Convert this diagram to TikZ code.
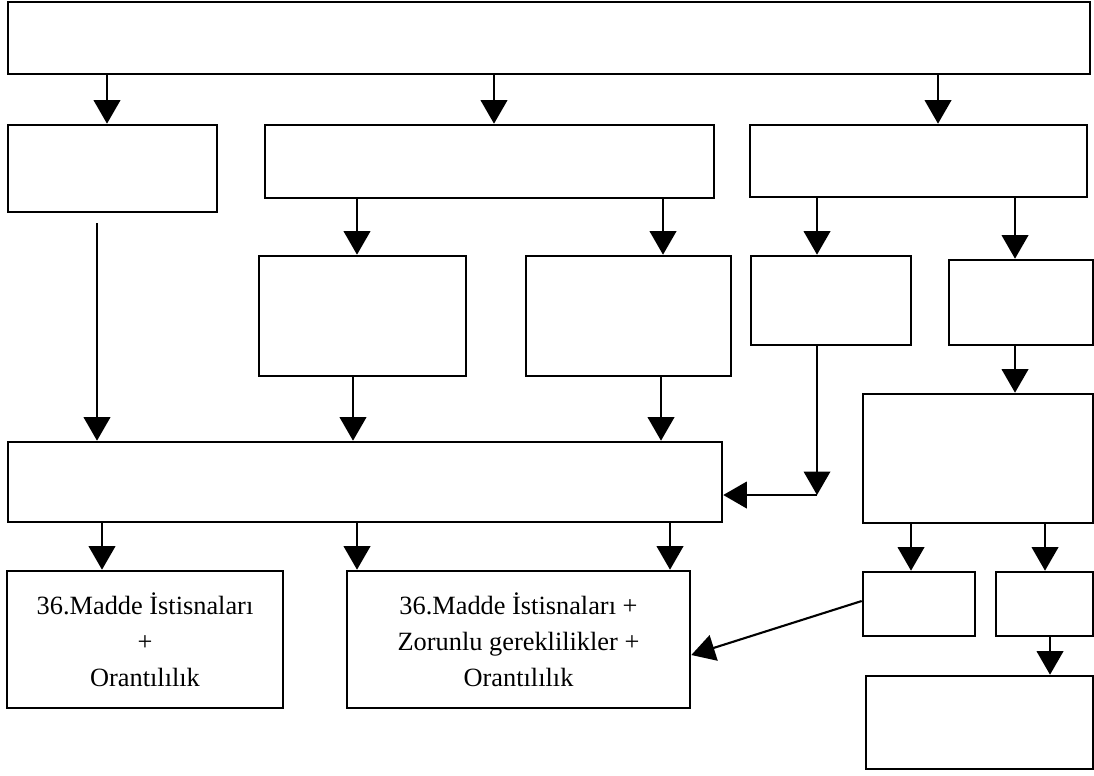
\documentclass[tikz,border=0pt]{standalone}
\usepackage{fontspec}
\setmainfont{Liberation Serif}
\usetikzlibrary{arrows.meta, calc}

\begin{document}
\begin{tikzpicture}[
          x=0.02cm, y=-0.02cm,
          box/.style={draw=black, fill=white, line width=1.5pt, inner sep=0pt,
              font=\fontsize{15}{20.5}\selectfont, align=center},
          arr/.style={-{Triangle[length=0.47cm, width=0.53cm]}, line width=1.2pt}
        ]
        \useasboundingbox (0,0) rectangle (1094,775);
        % first row
        \node[box, minimum width=21.64cm, minimum height=1.44cm] (top) at (549,38) {};
        \node[box, minimum width=4.18cm, minimum height=1.74cm] (a) at (112.5,168.5) {};
        \node[box, minimum width=8.98cm, minimum height=1.46cm] (b) at (489.5,161.5) {};
        \node[box, minimum width=6.74cm, minimum height=1.44cm] (c) at (918.5,161) {};
        % second row
        \node[box, minimum width=4.14cm, minimum height=2.4cm] (d) at (362.5,316) {};
        \node[box, minimum width=4.1cm, minimum height=2.4cm] (e) at (628.5,316) {};
        \node[box, minimum width=3.2cm, minimum height=1.78cm] (f) at (831,300.5) {};
        \node[box, minimum width=2.88cm, minimum height=1.7cm] (g) at (1021,302.5) {};
        \node[box, minimum width=4.6cm, minimum height=2.58cm] (h) at (978,458.5) {};
        \node[box, minimum width=14.28cm, minimum height=1.6cm] (wide) at (365,482) {};
        % bottom row
        \node[box, minimum width=5.52cm, minimum height=2.74cm] (orant) at (145,639.5)
        {36.Madde İstisnaları\\+\\Orantılılık};
        \node[box, minimum width=6.86cm, minimum height=2.74cm] (zorunlu) at (518.5,639.5)
        {36.Madde İstisnaları +\\Zorunlu gereklilikler +\\Orantılılık};
        \node[box, minimum width=2.24cm, minimum height=1.28cm] (i) at (919,604) {};
        \node[box, minimum width=1.94cm, minimum height=1.28cm] (j) at (1044.5,604) {};
        \node[box, minimum width=4.54cm, minimum height=1.86cm] (k) at (979.5,722.5) {};
        \coordinate (aout) at (97,223);
        \coordinate (fbend) at (817,495);
        \draw[arr] (top.south -| 107,0) -- (a.north -| 107,0);
        \draw[arr] (top.south -| 494,0) -- (b.north -| 494,0);
        \draw[arr] (top.south -| 938,0) -- (c.north -| 938,0);
        \draw[arr] (b.south -| 357,0) -- (d.north -| 357,0);
        \draw[arr] (b.south -| 663,0) -- (e.north -| 663,0);
        \draw[arr] (c.south -| 817,0) -- (f.north -| 817,0);
        \draw[arr] (c.south -| 1015,0) -- (g.north -| 1015,0);
        \draw[arr] (g.south -| 1015,0) -- (h.north -| 1015,0);
        \draw[arr] (aout) -- (wide.north -| aout);
        \draw[arr] (d.south -| 353,0) -- (wide.north -| 353,0);
        \draw[arr] (e.south -| 661,0) -- (wide.north -| 661,0);
        \draw[arr] (f.south -| fbend) -- (fbend);
        \draw[arr] (fbend) -- (wide.east |- fbend);
        \draw[arr] (wide.south -| 102,0) -- (orant.north -| 102,0);
        \draw[arr] (wide.south -| 357,0) -- (zorunlu.north -| 357,0);
        \draw[arr] (wide.south -| 670,0) -- (zorunlu.north -| 670,0);
        \draw[arr] (h.south -| 911,0) -- (i.north -| 911,0);
        \draw[arr] (h.south -| 1045,0) -- (j.north -| 1045,0);
        \draw[arr] (j.south -| 1050,0) -- (k.north -| 1050,0);
        \draw[arr] ($(i.west)+(0,-3)$) -- ($(zorunlu.east)+(0,15.5)$);
      \end{tikzpicture}
\end{document}
